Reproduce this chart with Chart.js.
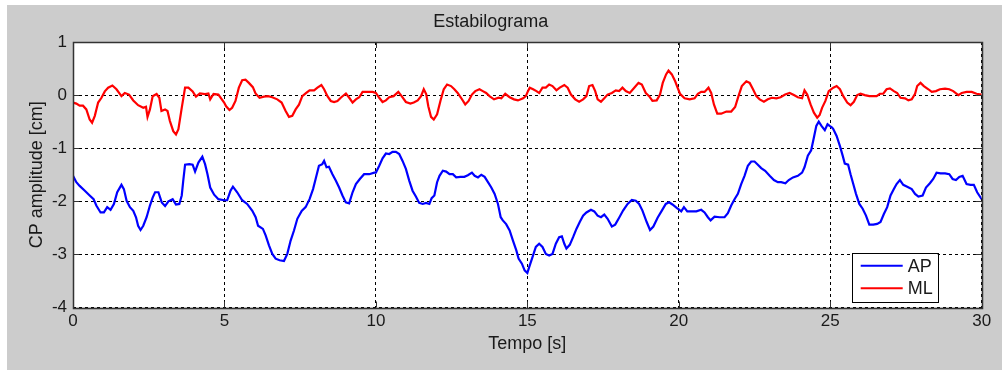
<!DOCTYPE html>
<html>
<head>
<meta charset="utf-8">
<script src="https://cdn.jsdelivr.net/npm/chart.js@4.4.0/dist/chart.umd.min.js"></script>
<style>
  html, body { margin: 0; padding: 0; background: #ffffff; }
  #c { position: absolute; left: 0; top: 0; }
</style>
</head>
<body>
<canvas id="c" width="1002" height="370"></canvas>
<script>
// ---- Data ----
const xTickValues = [0, 5, 10, 15, 20, 25, 30];
const yTickValues = [-4, -3, -2, -1, 0, 1];

const apTime = [0,0.11,0.22,0.39,0.55,0.68,0.77,0.91,1.02,1.13,1.24,1.35,1.46,1.60,1.68,1.77,1.88,1.99,2.08,2.15,2.23,2.32,2.43,2.54,2.63,2.71,2.82,2.93,3.04,3.15,3.29,3.40,3.51,3.59,3.64,3.70,3.84,3.95,4.03,4.14,4.27,4.36,4.44,4.53,4.66,4.80,4.99,
5.09,5.20,5.28,5.42,5.585,5.75,5.92,6.03,6.11,6.27,6.36,6.47,6.58,6.69,6.82,6.965,7.075,7.185,7.296,7.406,7.55,7.68,7.81,7.925,8.01,8.12,8.23,8.29,8.37,8.45,8.565,8.675,8.786,8.896,9.007,9.117,9.23,9.34,9.47,9.61,9.78,9.945,
10.0,10.11,10.22,10.33,10.44,10.55,10.66,10.77,10.88,10.99,11.10,11.21,11.32,11.43,11.545,11.656,11.766,11.84,11.93,12.02,12.10,12.21,12.32,12.43,12.54,12.65,12.79,12.92,13.035,13.17,13.26,13.37,13.48,13.59,13.70,13.81,13.92,14.03,14.12,14.19,14.30,14.415,14.525,14.636,14.71,14.82,14.91,15.0,
15.06,15.17,15.28,15.39,15.50,15.61,15.72,15.83,15.94,16.05,16.14,16.22,16.29,16.40,16.51,16.62,16.73,16.84,16.95,17.10,17.21,17.32,17.43,17.54,17.65,17.79,17.90,18.03,18.16,18.31,18.45,18.58,18.69,18.80,18.94,19.05,19.16,19.30,19.44,19.57,19.68,19.79,19.93,
19.97,20.08,20.17,20.28,20.41,20.58,20.74,20.85,20.96,21.05,21.18,21.35,21.51,21.62,21.73,21.84,21.95,22.06,22.17,22.28,22.39,22.50,22.61,22.72,22.85,23.00,23.14,23.27,23.38,23.52,23.63,23.77,23.93,24.07,24.15,24.26,24.37,24.46,24.54,24.62,24.71,24.82,24.91,24.98,25.06,
25.10,25.21,25.32,25.41,25.48,25.59,25.67,25.76,25.85,25.96,26.07,26.18,26.29,26.42,26.55,26.66,26.77,26.88,26.99,27.10,27.19,27.30,27.41,27.54,27.69,27.80,27.91,28.05,28.16,28.29,28.40,28.51,28.64,28.79,28.93,29.04,29.15,29.26,29.37,29.50,29.63,29.74,29.85,30.0];

const apValues = [-1.52,-1.64,-1.71,-1.80,-1.89,-1.96,-2.08,-2.21,-2.21,-2.11,-2.16,-2.05,-1.83,-1.69,-1.77,-1.99,-2.11,-2.18,-2.30,-2.46,-2.54,-2.46,-2.30,-2.08,-1.93,-1.83,-1.83,-2.02,-2.09,-2.00,-1.96,-2.06,-2.05,-1.89,-1.61,-1.31,-1.30,-1.31,-1.44,-1.27,-1.16,-1.30,-1.49,-1.74,-1.875,-1.96,-1.98,
-1.98,-1.80,-1.725,-1.83,-1.98,-2.05,-2.18,-2.30,-2.46,-2.52,-2.64,-2.83,-2.99,-3.08,-3.11,-3.125,-2.99,-2.74,-2.55,-2.33,-2.18,-2.11,-1.96,-1.77,-1.58,-1.33,-1.30,-1.24,-1.36,-1.35,-1.49,-1.61,-1.74,-1.89,-2.02,-2.04,-1.83,-1.675,-1.58,-1.49,-1.49,-1.46,
-1.46,-1.33,-1.19,-1.10,-1.11,-1.07,-1.07,-1.11,-1.24,-1.39,-1.61,-1.80,-1.91,-2.03,-2.05,-2.03,-2.05,-1.94,-1.89,-1.64,-1.52,-1.425,-1.44,-1.49,-1.49,-1.55,-1.54,-1.54,-1.51,-1.46,-1.52,-1.55,-1.50,-1.54,-1.64,-1.74,-1.86,-2.05,-2.30,-2.36,-2.43,-2.55,-2.74,-2.925,-3.08,-3.175,-3.30,-3.35,
-3.24,-3.05,-2.86,-2.80,-2.86,-2.99,-3.02,-2.99,-2.80,-2.675,-2.66,-2.80,-2.89,-2.82,-2.675,-2.52,-2.39,-2.27,-2.21,-2.16,-2.19,-2.27,-2.30,-2.25,-2.33,-2.475,-2.44,-2.31,-2.175,-2.05,-1.975,-1.99,-2.05,-2.175,-2.39,-2.54,-2.475,-2.31,-2.175,-2.05,-2.02,-2.06,-2.125,
-2.14,-2.19,-2.11,-2.19,-2.19,-2.19,-2.16,-2.21,-2.30,-2.36,-2.29,-2.30,-2.30,-2.225,-2.08,-1.96,-1.86,-1.675,-1.52,-1.33,-1.25,-1.25,-1.31,-1.375,-1.425,-1.52,-1.60,-1.64,-1.64,-1.66,-1.60,-1.55,-1.52,-1.46,-1.36,-1.14,-1.04,-0.80,-0.58,-0.50,-0.58,-0.66,-0.55,-0.58,-0.61,
-0.64,-0.77,-0.96,-1.14,-1.29,-1.31,-1.49,-1.675,-1.86,-2.05,-2.14,-2.27,-2.44,-2.44,-2.425,-2.39,-2.24,-2.11,-1.89,-1.77,-1.675,-1.60,-1.69,-1.725,-1.77,-1.86,-1.91,-1.89,-1.74,-1.66,-1.58,-1.46,-1.475,-1.475,-1.49,-1.58,-1.60,-1.54,-1.52,-1.675,-1.69,-1.69,-1.83,-1.96];

const mlTime = [0,0.11,0.22,0.33,0.44,0.55,0.63,0.72,0.83,0.94,1.05,1.16,1.30,1.435,1.60,1.71,1.85,1.99,2.15,2.32,2.41,2.46,2.54,2.63,2.76,2.85,2.92,3.04,3.12,3.20,3.31,3.40,3.48,3.59,3.70,3.81,3.95,4.06,4.19,4.36,4.47,4.53,4.64,4.80,4.99,
5.055,5.166,5.254,5.364,5.475,5.585,5.695,5.806,5.938,6.026,6.159,6.302,6.446,6.578,6.744,6.887,7.02,7.13,7.24,7.35,7.46,7.57,7.70,7.81,7.96,8.07,8.20,8.29,8.40,8.51,8.62,8.73,8.84,9.01,9.12,9.23,9.34,9.45,9.56,9.72,9.89,
10.0,10.11,10.22,10.33,10.44,10.585,10.74,10.85,10.99,11.14,11.25,11.38,11.49,11.58,11.66,11.73,11.82,11.91,12.02,12.13,12.24,12.35,12.48,12.59,12.70,12.81,12.95,13.06,13.17,13.28,13.42,13.53,13.64,13.75,13.90,14.05,14.14,14.27,14.415,14.56,14.69,14.86,14.95,
15.02,15.08,15.19,15.30,15.39,15.50,15.61,15.72,15.83,15.96,16.07,16.22,16.33,16.44,16.58,16.71,16.84,16.95,17.04,17.15,17.24,17.32,17.43,17.54,17.65,17.79,17.92,18.03,18.14,18.25,18.38,18.53,18.67,18.78,18.91,19.02,19.13,19.27,19.38,19.47,19.58,19.66,19.77,19.88,19.96,20.04,
20.19,20.36,20.52,20.63,20.74,20.85,20.98,21.07,21.16,21.27,21.40,21.57,21.73,21.86,21.97,22.08,22.23,22.34,22.45,22.56,22.67,22.81,22.94,23.07,23.22,23.36,23.51,23.66,23.80,23.93,24.07,24.15,24.24,24.35,24.46,24.57,24.65,24.73,24.84,24.95,
25.10,25.21,25.32,25.43,25.56,25.67,25.78,25.89,26.0,26.14,26.29,26.42,26.53,26.64,26.75,26.86,26.97,27.10,27.21,27.32,27.47,27.58,27.69,27.80,27.87,27.98,28.09,28.24,28.35,28.49,28.62,28.79,28.93,29.06,29.23,29.34,29.50,29.67,29.83,30.0];

const mlValues = [-0.14,-0.16,-0.20,-0.20,-0.27,-0.46,-0.52,-0.39,-0.14,-0.05,0.07,0.14,0.18,0.11,-0.02,0.04,0.01,-0.10,-0.19,-0.24,-0.22,-0.41,-0.27,-0.02,0.02,-0.05,-0.30,-0.27,-0.30,-0.49,-0.68,-0.74,-0.64,-0.24,0.14,0.14,0.07,-0.03,0.03,0.02,0.03,-0.08,0.02,0.01,-0.14,
-0.21,-0.28,-0.24,-0.11,0.14,0.28,0.29,0.23,0.15,0.03,-0.05,-0.03,-0.02,-0.04,-0.08,-0.14,-0.30,-0.41,-0.39,-0.27,-0.18,-0.02,0.04,0.09,0.09,0.14,0.19,0.11,-0.02,-0.11,-0.13,-0.11,-0.05,0.03,-0.05,-0.14,-0.08,-0.04,0.06,0.06,0.06,
0.04,-0.05,-0.13,-0.10,-0.04,-0.02,0.06,-0.02,-0.13,-0.16,-0.14,-0.10,-0.02,0.11,0.02,-0.21,-0.41,-0.46,-0.36,-0.11,0.11,0.20,0.17,0.11,0.04,-0.05,-0.175,-0.11,0.01,0.075,0.11,0.075,0.04,-0.02,-0.08,-0.05,-0.06,0.025,-0.04,-0.08,-0.10,-0.06,-0.02,
0.075,0.14,0.11,0.075,0.04,0.14,0.14,0.20,0.17,0.09,0.14,0.19,0.14,0.01,-0.08,-0.125,-0.08,-0.02,0.17,0.19,0.075,-0.08,-0.125,-0.06,0.01,0.04,0.09,0.075,0.14,0.075,0.04,0.14,0.23,0.20,0.04,-0.02,-0.11,-0.10,0.01,0.23,0.39,0.46,0.39,0.26,0.14,0.025,
-0.06,-0.08,-0.06,0.025,0.06,0.06,0.14,0.04,-0.175,-0.35,-0.35,-0.31,-0.31,-0.225,-0.02,0.17,0.26,0.23,0.11,-0.02,-0.08,-0.125,-0.08,-0.05,-0.06,-0.04,0.01,0.04,0.0,-0.04,-0.06,0.09,0.01,-0.175,-0.33,-0.425,-0.375,-0.24,-0.11,0.075,
0.14,0.17,0.11,-0.02,-0.14,-0.19,-0.125,0.0,0.025,0.0,-0.02,-0.02,-0.02,0.025,0.025,0.11,0.125,0.075,0.04,-0.05,-0.06,-0.10,-0.08,0.025,0.17,0.23,0.17,0.11,0.06,0.075,0.11,0.12,0.11,0.075,0.0,0.04,0.06,0.06,0.025,0.01];

const seriesLabels = ['AP', 'ML'];
const seriesColors = ['#0000ff', '#ff0000'];

// ---- Build library data ----
function toPoints(ts, vs) { return ts.map((t, i) => ({ x: t, y: vs[i] })); }

const FONT = "'Liberation Sans', Arial, sans-serif";
const TEXT = '#1a1a1a';

const bgPlugin = {
  id: 'bg',
  beforeDraw(chart) {
    const ctx = chart.ctx, a = chart.chartArea;
    ctx.save();
    ctx.fillStyle = '#ffffff';
    ctx.fillRect(0, 0, chart.width, chart.height);
    ctx.fillStyle = '#cccccc';
    ctx.fillRect(7, 5, chart.width - 7, chart.height - 5);
    ctx.fillStyle = '#ffffff';
    ctx.fillRect(a.left, a.top, a.right - a.left, a.bottom - a.top);
    ctx.restore();
  }
};

const framePlugin = {
  id: 'frame',
  afterDatasetsDraw(chart) {
    const ctx = chart.ctx, a = chart.chartArea;
    const xs = chart.scales.x, ys = chart.scales.y;
    ctx.save();
    ctx.strokeStyle = '#333333';
    ctx.lineWidth = 1;
    ctx.beginPath();
    xTickValues.forEach(v => {
      const px = Math.round(xs.getPixelForValue(v)) + 0.5;
      ctx.moveTo(px, a.bottom); ctx.lineTo(px, a.bottom - 6);
      ctx.moveTo(px, a.top); ctx.lineTo(px, a.top + 6);
    });
    yTickValues.forEach(v => {
      const py = Math.round(ys.getPixelForValue(v)) + 0.5;
      ctx.moveTo(a.left, py); ctx.lineTo(a.left + 6, py);
      ctx.moveTo(a.right, py); ctx.lineTo(a.right - 6, py);
    });
    ctx.stroke();
    ctx.lineWidth = 1.5;
    ctx.strokeRect(Math.round(a.left) + 0.5, Math.round(a.top) + 0.5,
                   Math.round(a.right - a.left), Math.round(a.bottom - a.top));
    // legend
    const w = 86, h = 49;
    const lx = a.right - 44 - w, ly = a.bottom - 5.5 - h;
    ctx.fillStyle = '#ffffff';
    ctx.fillRect(lx, ly, w, h);
    ctx.strokeStyle = '#000000';
    ctx.lineWidth = 1;
    ctx.strokeRect(Math.round(lx) + 0.5, Math.round(ly) + 0.5, w, h);
    ctx.font = '18px ' + FONT;
    ctx.textBaseline = 'middle';
    ctx.textAlign = 'left';
    chart.data.datasets.forEach((ds, i) => {
      const yy = ly + 12.7 + i * 22.5;
      ctx.strokeStyle = ds.borderColor;
      ctx.lineWidth = 2;
      ctx.beginPath();
      ctx.moveTo(lx + 9, yy); ctx.lineTo(lx + 51, yy);
      ctx.stroke();
      ctx.fillStyle = TEXT;
      ctx.fillText(ds.label, lx + 56, yy + 1);
    });
    ctx.restore();
  }
};

new Chart(document.getElementById('c'), {
  type: 'line',
  data: {
    datasets: [
      { label: seriesLabels[0], data: toPoints(apTime, apValues), borderColor: seriesColors[0], borderWidth: 2.2, pointRadius: 0, tension: 0, fill: false },
      { label: seriesLabels[1], data: toPoints(mlTime, mlValues), borderColor: seriesColors[1], borderWidth: 2.2, pointRadius: 0, tension: 0, fill: false }
    ]
  },
  options: {
    responsive: false,
    animation: false,
    devicePixelRatio: 1,
    layout: { padding: { left: 0, right: 20.3, top: 0, bottom: 0 } },
    plugins: {
      legend: { display: false },
      tooltip: { enabled: false },
      title: {
        display: true,
        text: 'Estabilograma',
        color: TEXT,
        font: { family: FONT, size: 18, weight: 'normal' },
        padding: { top: 11, bottom: 9.4 }
      }
    },
    scales: {
      x: {
        type: 'linear',
        min: 0, max: 30,
        afterFit(s) { s.height = 62.5; },
        afterBuildTicks(s) { s.ticks = xTickValues.map(v => ({ value: v })); },
        ticks: { color: TEXT, font: { family: FONT, size: 17 }, padding: 4, maxRotation: 0 },
        grid: { color: '#000000', lineWidth: 1, drawTicks: false, tickLength: 0 },
        border: { display: false, dash: [3, 3] },
        title: { display: true, text: 'Tempo [s]', color: TEXT, font: { family: FONT, size: 18 }, padding: { top: 0, bottom: 15.6 } }
      },
      y: {
        type: 'linear',
        min: -4, max: 1,
        afterFit(s) { s.width = 73; },
        afterBuildTicks(s) { s.ticks = yTickValues.map(v => ({ value: v })); },
        ticks: { color: TEXT, font: { family: FONT, size: 17 }, padding: 6 },
        grid: { color: '#000000', lineWidth: 1, drawTicks: false, tickLength: 0 },
        border: { display: false, dash: [3, 3] },
        title: { display: true, text: 'CP amplitude [cm]', color: TEXT, font: { family: FONT, size: 18 }, padding: { top: 26.4, bottom: 0 } }
      }
    }
  },
  plugins: [bgPlugin, framePlugin]
});
</script>
</body>
</html>
